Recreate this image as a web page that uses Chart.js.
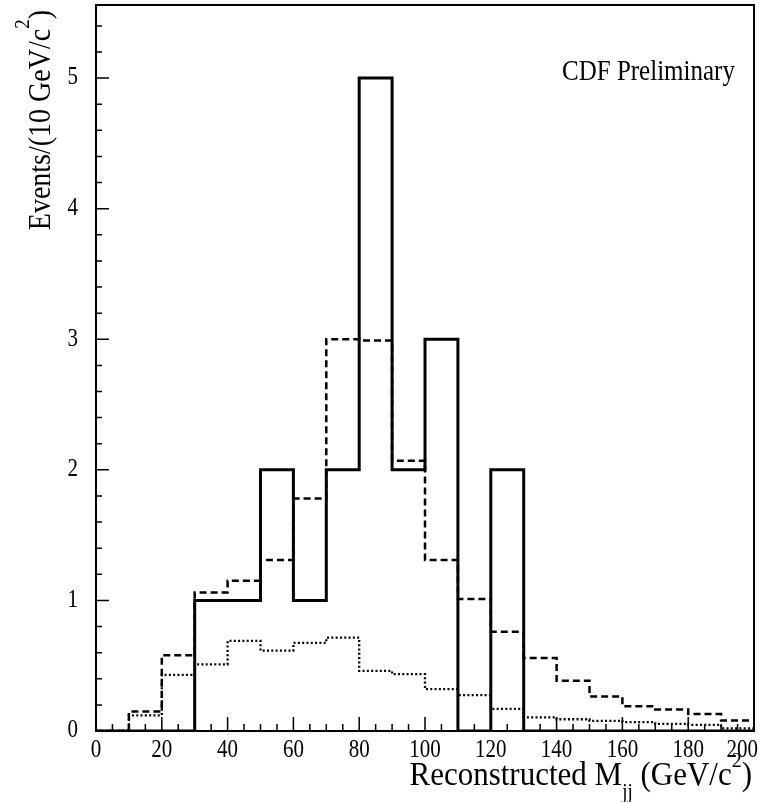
<!DOCTYPE html>
<html>
<head>
<meta charset="utf-8">
<title>Reconstructed Mjj</title>
<script src="https://cdn.jsdelivr.net/npm/chart.js@4.4.0/dist/chart.umd.min.js"></script>
<style>
  html, body { margin: 0; padding: 0; background: #fff; }
  #wrap { width: 775px; height: 802px; }
</style>
</head>
<body>
<div id="wrap"><canvas id="mjjChart" width="775" height="802"></canvas></div>
<script>
// bin edges (GeV/c^2), 10 GeV bins
const binEdges = [0, 10, 20, 30, 40, 50, 60, 70, 80, 90, 100, 110, 120, 130, 140, 150, 160, 170, 180, 190, 200];
// events per bin
const dataCounts   = [0, 0, 0, 1, 1, 2, 1, 2, 5, 2, 3, 0, 2, 0, 0, 0, 0, 0, 0, 0];
const signalPlusBg = [0, 0.15, 0.58, 1.06, 1.15, 1.31, 1.78, 3.0, 2.99, 2.07, 1.31, 1.01, 0.76, 0.56, 0.385, 0.265, 0.19, 0.165, 0.13, 0.08];
const bgOnly       = [0, 0.12, 0.43, 0.51, 0.69, 0.615, 0.675, 0.715, 0.46, 0.435, 0.32, 0.275, 0.17, 0.105, 0.09, 0.078, 0.068, 0.055, 0.047, 0.02];
// tick labels
const xTicks = [0, 20, 40, 60, 80, 100, 120, 140, 160, 180, 200];
const yTicks = [0, 1, 2, 3, 4, 5];

const FONT = "'Liberation Serif', 'DejaVu Serif', serif";

// bin contents -> step points: right edge of each bin carries that bin's value
// (chart.js stepped 'after' takes the next point's y), plus the opening point
function steps(vals) {
    const pts = [{ x: binEdges[0], y: vals[0] }];
    vals.forEach((v, i) => pts.push({ x: binEdges[i + 1], y: v }));
    return pts;
}

function drawParts(ctx, parts, x, y) {
    let cx = x;
    parts.forEach(p => {
        ctx.font = p.size + 'px ' + FONT;
        ctx.fillText(p.t, cx, y + (p.dy || 0));
        cx += ctx.measureText(p.t).width;
    });
}
function partsWidth(ctx, parts) {
    let w = 0;
    parts.forEach(p => { ctx.font = p.size + 'px ' + FONT; w += ctx.measureText(p.t).width; });
    return w;
}

// frame, inward ticks, labels and titles in ROOT style
const rootFrame = {
    id: 'rootFrame',
    afterDraw(chart) {
        const ctx = chart.ctx;
        const a = chart.chartArea;
        const xs = chart.scales.x, ys = chart.scales.y;
        ctx.save();
        ctx.strokeStyle = '#000';
        ctx.fillStyle = '#000';

        // x ticks every 5, long every 20
        ctx.lineWidth = 1.5;
        ctx.beginPath();
        for (let v = 0; v <= 200; v += 5) {
            const px = xs.getPixelForValue(v);
            const len = v % 20 === 0 ? 14 : 7;
            ctx.moveTo(px, a.bottom);
            ctx.lineTo(px, a.bottom - len);
        }
        // y ticks every 0.2, long at integers
        for (let k = 0; k * 0.2 <= ys.max; k++) {
            const py = ys.getPixelForValue(k * 0.2);
            const len = k % 5 === 0 ? 13 : 6;
            ctx.moveTo(a.left, py);
            ctx.lineTo(a.left + len, py);
        }
        ctx.stroke();

        // frame
        ctx.lineWidth = 2;
        ctx.strokeRect(a.left, a.top, a.right - a.left, a.bottom - a.top);

        // tick labels
        ctx.font = '21px ' + FONT;
        ctx.textBaseline = 'alphabetic';
        ctx.textAlign = 'center';
        xTicks.forEach(v => {
            let px = xs.getPixelForValue(v);
            const w = ctx.measureText(String(v)).width;
            if (px + w / 2 > 758) px = 758 - w / 2;
            ctx.save();
            ctx.translate(px, 757);
            ctx.scale(1, 1.15);
            ctx.fillText(String(v), 0, 0);
            ctx.restore();
        });
        ctx.textAlign = 'right';
        ctx.textBaseline = 'middle';
        yTicks.forEach(v => {
            const py = ys.getPixelForValue(v);
            ctx.save();
            ctx.translate(78, py);
            ctx.scale(1, 1.15);
            ctx.fillText(String(v), 0, 0);
            ctx.restore();
        });

        // x title
        ctx.textAlign = 'left';
        ctx.textBaseline = 'alphabetic';
        const xParts = [
            { t: 'Reconstructed M', size: 31 },
            { t: 'jj', size: 19, dy: 12 },
            { t: ' (GeV/c', size: 31 },
            { t: '2', size: 20, dy: -17 },
            { t: ')', size: 31 }
        ];
        const xw = partsWidth(ctx, xParts);
        ctx.save();
        ctx.translate(752 - xw, 785);
        ctx.scale(1, 1.06);
        drawParts(ctx, xParts, 0, 0);
        ctx.restore();

        // y title
        const yParts = [
            { t: 'Events/(10 GeV/c', size: 28 },
            { t: '2', size: 19, dy: -19 },
            { t: ')', size: 28 }
        ];
        const yw = partsWidth(ctx, yParts);
        ctx.save();
        ctx.translate(50, 10);
        ctx.rotate(-Math.PI / 2);
        ctx.scale(1, 1.12);
        drawParts(ctx, yParts, -yw, 0);
        ctx.restore();

        // annotation
        ctx.save();
        ctx.font = '25px ' + FONT;
        ctx.translate(562, 80);
        ctx.scale(1, 1.15);
        ctx.fillText('CDF Preliminary', 0, 0);
        ctx.restore();

        ctx.restore();
    }
};

const ctx = document.getElementById('mjjChart').getContext('2d');
const mjjChart = new Chart(ctx, {
    type: 'line',
    data: {
        datasets: [{
            label: 'Data',
            data: steps(dataCounts),
            borderColor: '#000',
            borderWidth: 3,
            stepped: 'after',
            pointRadius: 0,
            fill: false
        }, {
            label: 'Signal + background',
            data: steps(signalPlusBg),
            borderColor: '#000',
            borderWidth: 2.5,
            borderDash: [7, 4],
            stepped: 'after',
            pointRadius: 0,
            fill: false
        }, {
            label: 'Background',
            data: steps(bgOnly),
            borderColor: '#000',
            borderWidth: 2.3,
            borderDash: [2, 2.3],
            stepped: 'after',
            pointRadius: 0,
            fill: false
        }]
    },
    options: {
        responsive: false,
        animation: false,
        layout: { padding: { top: 5, right: 21, left: 0, bottom: 0 } },
        plugins: {
            legend: { display: false },
            tooltip: { enabled: false }
        },
        scales: {
            x: {
                type: 'linear',
                min: 0,
                max: 200,
                grid: { display: false },
                border: { display: false },
                ticks: { display: false },
                afterFit(s) { s.height = 71; }
            },
            y: {
                min: 0,
                max: 5.56,
                grid: { display: false },
                border: { display: false },
                ticks: { display: false },
                afterFit(s) { s.width = 96; }
            }
        }
    },
    plugins: [rootFrame]
});
</script>
</body>
</html>
